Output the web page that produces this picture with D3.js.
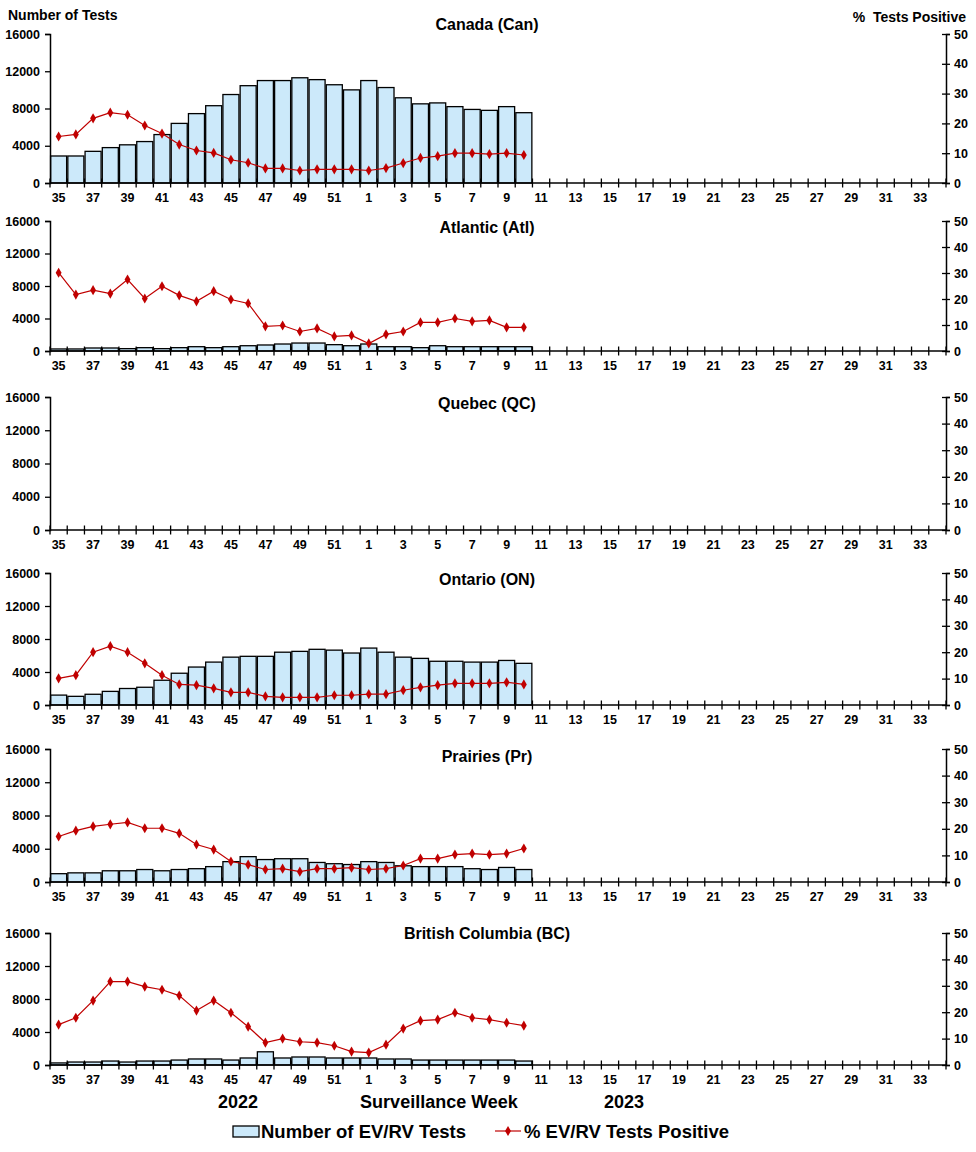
<!DOCTYPE html>
<html>
<head>
<meta charset="utf-8">
<title>EV/RV tests by region</title>
<script src="https://cdn.jsdelivr.net/npm/d3@7"></script>
<style>
  body { margin: 0; background: #fff; }
  text { font-family: "Liberation Sans", Arial, sans-serif; font-weight: bold; fill: #000; }
</style>
</head>
<body>
<script>
// surveillance weeks (x categories)
var weeks = ["35","36","37","38","39","40","41","42","43","44","45","46","47","48","49","50","51","52",
             "1","2","3","4","5","6","7","8","9","10","11","12","13","14","15","16","17","18","19","20",
             "21","22","23","24","25","26","27","28","29","30","31","32","33","34"];
var weekLabels = ["35","37","39","41","43","45","47","49","51","1","3","5","7","9","11","13","15","17",
                  "19","21","23","25","27","29","31","33"];
var testTicks = [0, 4000, 8000, 12000, 16000];
var pctTicks = [0, 10, 20, 30, 40, 50];

var regions = ["Canada (Can)", "Atlantic (Atl)", "Quebec (QC)", "Ontario (ON)", "Prairies (Pr)", "British Columbia (BC)"];

var canTests = [2900,2900,3400,3800,4100,4450,5200,6400,7450,8300,9500,10450,11000,11000,11300,11100,10550,10000,11000,10250,9150,8500,8600,8200,7900,7800,8200,7550];
var canPct   = [15.6,16.3,21.7,23.6,22.9,19.3,16.6,12.9,10.9,10.1,7.8,6.8,4.9,4.9,4.2,4.6,4.6,4.6,4.2,5.0,6.7,8.4,9.0,10.0,10.0,9.7,10.0,9.4];

var atlTests = [250,250,370,370,290,410,290,410,530,410,530,650,740,860,980,980,780,650,860,530,530,410,650,530,530,530,530,530];
var atlPct   = [30.1,21.7,23.4,22.1,27.5,20.2,24.9,21.4,19.1,23.0,19.8,18.3,9.5,9.8,7.5,8.7,5.6,6.0,2.9,6.4,7.5,11.0,11.0,12.5,11.4,11.8,9.1,9.1];

var qcTests = [];
var qcPct   = [];

var onTests = [1200,1050,1300,1650,2000,2150,3000,3850,4600,5200,5800,5900,5900,6400,6500,6750,6650,6300,6900,6400,5800,5650,5300,5300,5200,5200,5400,5050];
var onPct   = [10.1,11.3,20.0,22.3,20.0,15.8,11.3,7.8,7.5,6.3,4.8,4.8,3.3,2.9,2.9,2.9,3.7,3.7,4.1,4.1,5.6,6.7,7.5,8.2,8.2,8.2,8.6,7.8];

var prTests = [1000,1100,1100,1350,1350,1500,1350,1500,1600,1850,2450,3050,2700,2800,2800,2350,2200,2100,2450,2350,1950,1850,1850,1850,1600,1500,1750,1500];
var prPct   = [17.1,19.3,20.9,21.7,22.4,20.2,20.2,18.3,14.1,12.2,7.7,6.5,4.7,5.0,3.9,5.0,5.0,5.4,4.7,5.0,6.2,8.8,8.8,10.3,10.7,10.3,10.7,12.6];

var bcTests = [250,360,360,480,360,480,480,600,730,730,600,850,1600,850,970,970,850,850,850,730,730,600,600,600,600,600,600,480];
var bcPct   = [15.3,17.9,24.4,31.6,31.6,29.7,28.5,26.3,20.6,24.4,19.8,14.5,8.5,10.0,8.8,8.5,7.3,5.1,4.7,7.7,13.8,16.8,17.2,19.8,17.9,17.2,16.0,14.9];

var allTests = [canTests, atlTests, qcTests, onTests, prTests, bcTests];
var allPct = [canPct, atlPct, qcPct, onPct, prPct, bcPct];

// panel layout (top of plot, bottom of plot, title baseline)
var panelTop = [34, 221, 397, 573, 749, 933];
var panelBot = [183, 351, 530, 705, 882, 1065];
var titleY = [30, 233, 409, 585, 762, 939];

var W = 976, H = 1152;
var left = 50, right = 946;
var barFill = "#cce9fa", red = "#c00000";

var svg = d3.select("body").append("svg")
    .attr("width", W).attr("height", H);

var x = d3.scaleBand().domain(weeks).range([left, right]).paddingInner(0.07).paddingOuter(0.035);

svg.append("text").attr("x", 8).attr("y", 20).style("font-size", "14px").text("Number of Tests");
svg.append("text").attr("x", 966).attr("y", 22).attr("text-anchor", "end")
   .style("font-size", "14px").attr("xml:space", "preserve").text("%  Tests Positive");

var diamond = d3.symbol().type(d3.symbolDiamond).size(30);

for (var p = 0; p < regions.length; p++) {
    var y = d3.scaleLinear().domain([0, 16000]).range([panelBot[p], panelTop[p]]);
    var y2 = d3.scaleLinear().domain([0, 50]).range([panelBot[p], panelTop[p]]);
    var g = svg.append("g");
    var tests = allTests[p], pct = allPct[p];

    g.selectAll("rect.bar")
        .data(tests)
        .enter()
        .append("rect")
        .attr("class", "bar")
        .attr("x", function(d, i){ return x(weeks[i]); })
        .attr("y", function(d){ return y(d); })
        .attr("width", x.bandwidth())
        .attr("height", function(d){ return y(0) - y(d); })
        .attr("fill", barFill)
        .attr("stroke", "#000")
        .attr("stroke-width", 1.3);

    // left axis
    var ya = g.append("g").attr("transform", "translate(" + left + ",0)")
        .call(d3.axisLeft(y).tickValues(testTicks).tickSize(5).tickPadding(5).tickFormat(d3.format("d")));
    // right axis
    var yb = g.append("g").attr("transform", "translate(" + right + ",0)")
        .call(d3.axisRight(y2).tickValues(pctTicks).tickSize(4).tickPadding(4));
    // x axis
    var xa = g.append("g").attr("transform", "translate(0," + panelBot[p] + ")")
        .call(d3.axisBottom(x).tickValues(weekLabels).tickSize(0).tickPadding(10));

    [ya, yb, xa].forEach(function(a){
        a.select(".domain").attr("stroke", "#000").attr("stroke-width", 1.5);
        a.selectAll(".tick line").attr("stroke", "#000").attr("stroke-width", 1.3);
        a.selectAll("text").style("font-size", "12.5px").style("font-family", "'Liberation Sans', Arial, sans-serif")
            .style("font-weight", "bold").attr("fill", "#000");
    });
    yb.selectAll(".tick line").attr("x1", -4);
    xa.select(".domain").attr("d", "M" + left + ",0H" + right);

    // week boundary ticks crossing the axis
    g.selectAll("line.wk")
        .data(d3.range(weeks.length + 1))
        .enter()
        .append("line")
        .attr("class", "wk")
        .attr("x1", function(i){ return left + i * x.step(); })
        .attr("x2", function(i){ return left + i * x.step(); })
        .attr("y1", panelBot[p] - 4.5)
        .attr("y2", panelBot[p] + 4.5)
        .attr("stroke", "#000").attr("stroke-width", 1.3);

    var line = d3.line()
        .x(function(d, i){ return x(weeks[i]) + x.bandwidth() / 2; })
        .y(function(d){ return y2(d); });

    if (pct.length) {
        g.append("path").datum(pct)
            .attr("d", line).attr("fill", "none")
            .attr("stroke", red).attr("stroke-width", 1.2);
    }
    g.selectAll("path.pt")
        .data(pct)
        .enter()
        .append("path")
        .attr("class", "pt")
        .attr("d", diamond)
        .attr("transform", function(d, i){ return "translate(" + (x(weeks[i]) + x.bandwidth() / 2) + "," + y2(d) + ")"; })
        .attr("fill", red);

    svg.append("text").attr("x", 487).attr("y", titleY[p]).attr("text-anchor", "middle")
       .style("font-size", "16px").text(regions[p]);
}

// bottom labels
svg.append("text").attr("x", 238).attr("y", 1108).attr("text-anchor", "middle").style("font-size", "18px").text("2022");
svg.append("text").attr("x", 439).attr("y", 1108).attr("text-anchor", "middle").style("font-size", "18px").text("Surveillance Week");
svg.append("text").attr("x", 624).attr("y", 1108).attr("text-anchor", "middle").style("font-size", "18px").text("2023");

// legend
var lg = svg.append("g");
lg.append("rect").attr("x", 233).attr("y", 1126).attr("width", 26).attr("height", 11)
  .attr("fill", barFill).attr("stroke", "#000").attr("stroke-width", 1.3);
lg.append("text").attr("x", 261).attr("y", 1138).style("font-size", "18.5px").text("Number of EV/RV Tests");
lg.append("line").attr("x1", 495).attr("x2", 521).attr("y1", 1131).attr("y2", 1131)
  .attr("stroke", red).attr("stroke-width", 1.2);
lg.append("path").attr("d", diamond).attr("transform", "translate(508,1131)").attr("fill", red);
lg.append("text").attr("x", 524).attr("y", 1138).style("font-size", "18.5px").text("% EV/RV Tests Positive");
</script>
</body>
</html>
